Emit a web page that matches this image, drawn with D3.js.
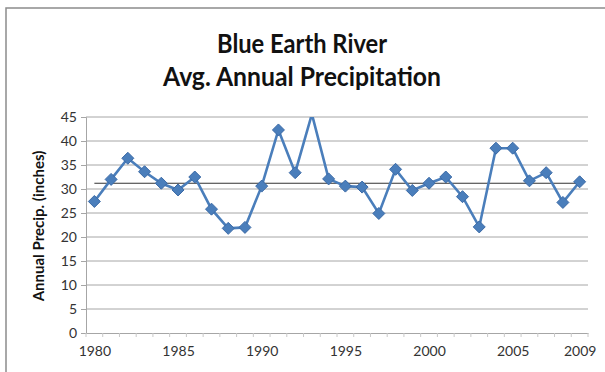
<!DOCTYPE html>
<meta charset="utf-8">
<script src="https://d3js.org/d3.v7.min.js"></script>
<style>
  body { margin: 0; background: #fff; }
  svg { display: block; }
</style>
<body>
<svg id="chart" width="605" height="372"></svg>
<script>
var years = d3.range(1980, 2010);
var precip = [27.4, 32.0, 36.4, 33.6, 31.2, 29.8, 32.5, 25.8, 21.8, 22.0,
              30.6, 42.3, 33.4, 45.6, 32.1, 30.6, 30.4, 24.9, 34.1, 29.7,
              31.2, 32.5, 28.4, 22.1, 38.5, 38.5, 31.7, 33.4, 27.2, 31.5];
var avgPrecip = 31.2;
var yTicks = [0, 5, 10, 15, 20, 25, 30, 35, 40, 45];
var xTicks = [1980, 1985, 1990, 1995, 2000, 2005, 2009];
var titleLines = ["Blue Earth River", "Avg. Annual Precipitation"];

var data = years.map(function(y, i) { return {year: y, value: precip[i]}; });

var svg = d3.select("#chart"),
    margin = {top: 117, right: 17, bottom: 39, left: 86},
    width = +svg.attr("width") - margin.left - margin.right,
    height = +svg.attr("height") - margin.top - margin.bottom;

// outer chart frame
svg.append("rect")
    .attr("x", 6).attr("y", 8)
    .attr("width", 620).attr("height", 400)
    .attr("fill", "#fff")
    .attr("stroke", "#8c8c8c")
    .attr("stroke-width", 1.5);

svg.selectAll(".title")
  .data(titleLines)
  .enter().append("text")
    .attr("x", 302)
    .attr("y", function(d, i) { return 53 + i * 33; })
    .attr("text-anchor", "middle")
    .attr("font-family", "Lato, sans-serif")
    .attr("font-weight", "bold")
    .attr("font-size", 26)
    .attr("fill", "#111")
    .attr("textLength", function(d, i) { return i === 0 ? 170 : 278; })
    .attr("lengthAdjust", "spacingAndGlyphs")
    .text(function(d) { return d; });

var g = svg.append("g").attr("transform", "translate(" + margin.left + "," + margin.top + ")");

var x = d3.scaleLinear().domain([1979.5, 2009.5]).range([0, width]);
var y = d3.scaleLinear().domain([0, 45]).range([height, 0]);

// gridlines
g.append("g")
  .selectAll("line")
  .data(yTicks.filter(function(d) { return d > 0; }))
  .enter().append("line")
    .attr("x1", 0).attr("x2", width)
    .attr("y1", function(d) { return y(d); })
    .attr("y2", function(d) { return y(d); })
    .attr("stroke", "#a6a6a6")
    .attr("stroke-width", 1);

// y axis
var yAxis = g.append("g")
    .call(d3.axisLeft(y).tickValues(yTicks).tickSize(5).tickPadding(4));
yAxis.select(".domain").attr("stroke", "#a6a6a6");
yAxis.selectAll(".tick line").attr("stroke", "#a6a6a6");
yAxis.selectAll("text")
    .attr("font-family", "Lato, sans-serif")
    .attr("font-size", 14)
    .attr("fill", "#333");

// x axis
var xAxis = g.append("g")
    .attr("transform", "translate(0," + height + ")")
    .call(d3.axisBottom(x).tickValues(xTicks).tickFormat(d3.format("d")).tickSize(0).tickPadding(13));
xAxis.select(".domain").attr("stroke", "#a6a6a6");
xAxis.selectAll("text")
    .attr("font-family", "Lato, sans-serif")
    .attr("font-size", 14)
    .attr("fill", "#333");
g.append("g")
    .attr("transform", "translate(0," + height + ")")
  .selectAll("line")
  .data(d3.range(1979.5, 2010.5, 1))
  .enter().append("line")
    .attr("x1", function(d) { return x(d); })
    .attr("x2", function(d) { return x(d); })
    .attr("y1", 0).attr("y2", 4)
    .attr("stroke", "#c8c8c8");

svg.append("text")
    .attr("transform", "translate(44," + (margin.top + height / 2 + 1) + ") rotate(-90)")
    .attr("text-anchor", "middle")
    .attr("font-family", "Lato, sans-serif")
    .attr("font-weight", "bold")
    .attr("font-size", 15)
    .attr("fill", "#111")
    .text("Annual Precip. (inches)");

// clip to plot area
svg.append("defs").append("clipPath").attr("id", "plotclip")
  .append("rect").attr("x", -10).attr("y", 0).attr("width", width + 20).attr("height", height + 10);

var plot = g.append("g").attr("clip-path", "url(#plotclip)");

// average line
plot.append("line")
    .attr("x1", x(1980)).attr("x2", x(2009))
    .attr("y1", y(avgPrecip)).attr("y2", y(avgPrecip))
    .attr("stroke", "#333")
    .attr("stroke-width", 1.2);

var line = d3.line()
    .x(function(d) { return x(d.year); })
    .y(function(d) { return y(d.value); });

plot.append("path")
    .datum(data)
    .attr("fill", "none")
    .attr("stroke", "#4a7ebb")
    .attr("stroke-width", 2.6)
    .attr("stroke-linejoin", "miter")
    .attr("d", line);

// markers outside the axis range are hidden, as Excel does
plot.selectAll(".pt")
  .data(data.filter(function(d) { return d.value <= y.domain()[1]; }))
  .enter().append("path")
    .attr("class", "pt")
    .attr("transform", function(d) { return "translate(" + x(d.year) + "," + y(d.value) + ")"; })
    .attr("d", "M0,-6L6,0L0,6L-6,0Z")
    .attr("fill", "#4a7ebb")
    .attr("stroke", "#3b6aa6")
    .attr("stroke-width", 1);
</script>
</body>
